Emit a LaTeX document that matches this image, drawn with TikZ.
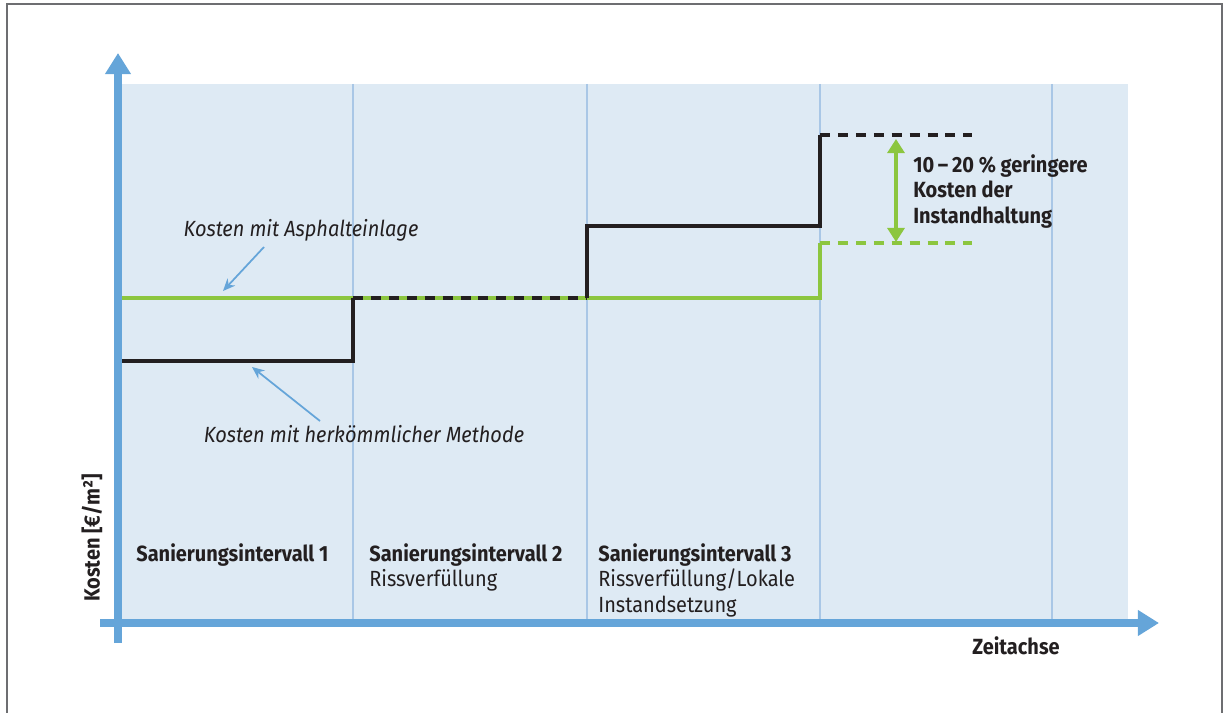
\documentclass[tikz,border=0pt]{standalone}
\usepackage{fontspec}
\setmainfont[FakeStretch=0.91]{Fira Sans}
\usetikzlibrary{arrows.meta}
\definecolor{axisblue}{HTML}{65A5D9}
\definecolor{panelblue}{HTML}{DEEAF4}
\definecolor{gridblue}{HTML}{A9C7E6}
\definecolor{costgreen}{HTML}{8CC63F}
\definecolor{costblack}{HTML}{231F20}
\definecolor{framegray}{HTML}{6D6E71}
\tikzset{
  axisline/.style={draw=axisblue,line width=4pt,-{Triangle[length=12pt,width=14pt]}},
  gridline/.style={draw=gridblue,line width=0.85pt},
  greenline/.style={draw=costgreen,line width=1.75pt},
  blackline/.style={draw=costblack,line width=1.8pt,line join=miter},
  stepdashed/.style={dash pattern=on 5.7pt off 4.5pt},
  notearrow/.style={draw=axisblue,line width=1pt,-{Stealth[length=7pt,width=6pt]}},
  savingarrow/.style={draw=costgreen,line width=2pt,{Triangle[length=8pt,width=9.6pt]}-{Triangle[length=8pt,width=9.6pt]}},
  intervaltext/.style={anchor=north west,align=left,inner sep=0pt,text=costblack,
    font=\fontsize{12.5}{14.5}\selectfont},
  notetext/.style={inner sep=0pt,text=costblack,font=\itshape\fontsize{12.5}{14.5}\selectfont},
  axistext/.style={inner sep=0pt,text=costblack,font=\bfseries\fontsize{12.5}{14.5}\selectfont}
}

\begin{document}
\begin{tikzpicture}[x=0.02cm,y=-0.02cm]
\path[use as bounding box] (0,0) rectangle (1228,713);
\draw[framegray,line width=0.8pt] (7,713) -- (7,4) -- (1222,4) -- (1222,713);

% panel and interval borders
\fill[panelblue] (120,84) rectangle (1128,620);
\foreach \gx in {353,587,820,1052}
  \draw[gridline] (\gx,84) -- (\gx,620);

% cost with asphalt interlayer
\draw[greenline] (120,298) -- (820,298) -- (820,243);
\draw[greenline,stepdashed] (820,243) -- (972,243);

% cost with conventional method
\draw[blackline] (120,361) -- (353,361) -- (353,298);
\draw[blackline,stepdashed] (353,298) -- (587,298);
\draw[blackline] (587,298) -- (587,226) -- (820,226) -- (820,135);
\draw[blackline,stepdashed] (820,135) -- (972,135);

% axes
\coordinate (yfoot) at (118,643);
\coordinate (ytip) at (118,53);
\coordinate (xfoot) at (100,623);
\coordinate (xtip) at (1159,623);
\draw[axisline] (yfoot) -- (ytip);
\draw[axisline] (xfoot) -- (xtip);
\node[axistext,rotate=90] (ylabel) at (92,538) {Kosten [€/m²]};
\node[axistext,anchor=base west] (xlabel) at (972,654) {Zeitachse};

% saving
\coordinate (savetop) at (896,139);
\coordinate (savebot) at (896,242);
\draw[savingarrow] (savebot) -- (savetop);
\node[intervaltext,font=\bfseries\fontsize{12.5}{14.5}\selectfont] (saving) at (913,154)
  {10\,–\,20~\% geringere\\Kosten der\\Instandhaltung};

% curve labels
\node[notetext] (asphnote) at (301,230) {Kosten mit Asphalteinlage};
\coordinate (asphtail) at (264,247);
\coordinate (asphtip) at (223,291);
\draw[notearrow] (asphtail) -- (asphtip);
\node[notetext] (convnote) at (364,434) {Kosten mit herkömmlicher Methode};
\coordinate (convtail) at (320,421);
\coordinate (convtip) at (252,367);
\draw[notearrow] (convtail) -- (convtip);

% intervals
\node[intervaltext] (int1) at (136,543) {\textbf{Sanierungsintervall 1}};
\node[intervaltext] (int2) at (369,543) {\textbf{Sanierungsintervall 2}\\Rissverfüllung};
\node[intervaltext] (int3) at (598,543)
  {\textbf{Sanierungsintervall 3}\\Rissverfüllung/Lokale\\Instandsetzung};
\end{tikzpicture}
\end{document}
